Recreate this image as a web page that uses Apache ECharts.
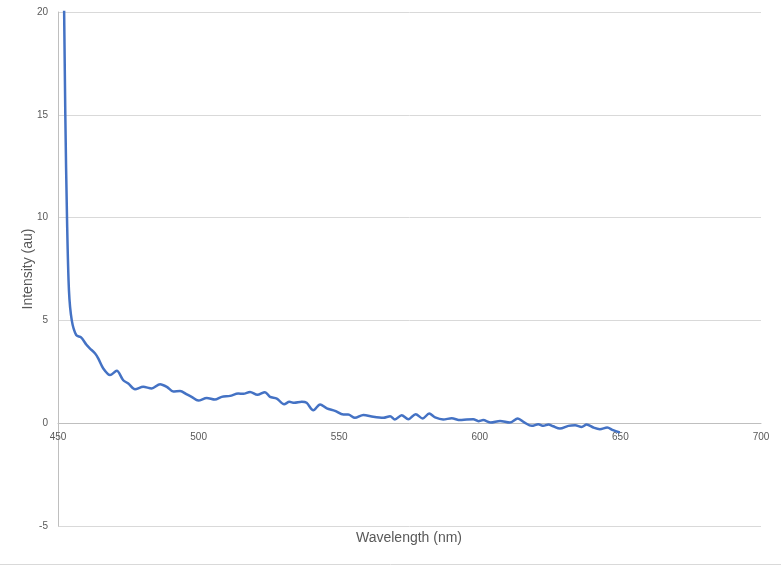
<!DOCTYPE html>
<html>
<head>
<meta charset="utf-8">
<script src="https://cdn.jsdelivr.net/npm/echarts@6/dist/echarts.min.js"></script>
<style>
  html, body { margin: 0; padding: 0; background: #fff; }
  #main { width: 781px; height: 567px; }
</style>
</head>
<body>
<div id="main"></div>
<script>
// wavelength (nm)
const wavelength = [451.8, 452.6, 453.2, 453.9, 454.9, 456.5, 458.2, 460.2, 461.4, 463.2,
  464.3, 466.1, 468.5, 470.9, 473.2, 475.0, 477.4, 480.3, 483.3, 486.3,
  488.7, 491.0, 493.4, 495.8, 497.5, 499.9, 502.9, 505.8, 508.2, 511.2,
  514.1, 515.9, 518.3, 520.9, 523.6, 525.4, 527.8, 530.4, 532.3, 534.0,
  536.7, 538.4, 540.8, 543.2, 545.6, 548.5, 551.5, 553.2, 555.6, 558.6,
  562.1, 565.7, 568.1, 569.8, 572.2, 574.6, 577.2, 579.7, 582.0, 584.1,
  587.0, 590.0, 593.0, 595.3, 597.7, 599.5, 601.2, 603.9, 607.2, 610.7,
  613.5, 615.8, 618.5, 620.8, 622.6, 624.4, 626.1, 628.5, 631.5, 633.9,
  636.2, 638.0, 640.4, 642.7, 645.3, 647.4, 649.8]
// intensity (au)
const intensity = [25, 15, 10, 6.45, 5.0, 4.28, 4.17, 3.80, 3.63, 3.39,
  3.15, 2.66, 2.34, 2.55, 2.09, 1.93, 1.65, 1.77, 1.69, 1.90,
  1.77, 1.54, 1.57, 1.40, 1.28, 1.10, 1.23, 1.15, 1.28, 1.33,
  1.44, 1.43, 1.52, 1.38, 1.51, 1.28, 1.20, 0.92, 1.04, 0.99,
  1.04, 0.99, 0.63, 0.91, 0.72, 0.60, 0.42, 0.42, 0.26, 0.40,
  0.31, 0.26, 0.34, 0.18, 0.39, 0.19, 0.44, 0.23, 0.47, 0.28,
  0.18, 0.24, 0.15, 0.18, 0.19, 0.10, 0.15, 0.03, 0.11, 0.03,
  0.23, 0.04, -0.13, -0.05, -0.13, -0.06, -0.15, -0.26, -0.13, -0.10,
  -0.18, -0.06, -0.21, -0.29, -0.21, -0.34, -0.45]

const fontFam = 'Liberation Sans, Arial, sans-serif'
const textColor = '#595959'

const chart = echarts.init(document.getElementById('main'))

const points = []
for (let i = 0; i < wavelength.length; i++) {
  points.push([wavelength[i], intensity[i]])
}

chart.setOption({
  animation: false,
  // x axis title sits at the bottom edge while the axis itself crosses at zero
  title: {
    text: 'Wavelength (nm)',
    left: 409,
    top: 531,
    textAlign: 'center',
    padding: 0,
    textStyle: { color: textColor, fontSize: 14, fontWeight: 'normal', fontFamily: fontFam }
  },
  grid: { left: 58, right: 20, top: 12, bottom: 41 },
  xAxis: {
    type: 'value',
    min: 450,
    max: 700,
    interval: 50,
    // lifted from the grid bottom (-5) up to the zero line
    offset: -102.8,
    axisLine: { onZero: false, lineStyle: { color: '#bfbfbf', width: 1 } },
    axisTick: { show: false },
    splitLine: { show: false },
    axisLabel: { color: textColor, fontSize: 10, fontFamily: fontFam, margin: 9 }
  },
  yAxis: {
    type: 'value',
    min: -5,
    max: 20,
    interval: 5,
    axisLine: { show: true, onZero: false, lineStyle: { color: '#bfbfbf', width: 1 } },
    axisTick: { show: false },
    splitLine: { show: true, lineStyle: { color: '#d9d9d9', width: 1 } },
    axisLabel: { color: textColor, fontSize: 10, fontFamily: fontFam, margin: 10 },
    name: 'Intensity (au)',
    nameLocation: 'middle',
    nameGap: 23,
    nameMoveOverlap: false,
    nameTextStyle: { color: textColor, fontSize: 14, fontFamily: fontFam }
  },
  graphic: [{
    type: 'line',
    shape: { x1: 0, y1: 564.5, x2: 781, y2: 564.5 },
    style: { stroke: '#d9d9d9', lineWidth: 1 }
  }],
  series: [{
    type: 'line',
    data: points,
    showSymbol: false,
    smooth: 0.3,
    clip: true,
    lineStyle: { color: '#4472c4', width: 2.5 }
  }]
})
</script>
</body>
</html>
